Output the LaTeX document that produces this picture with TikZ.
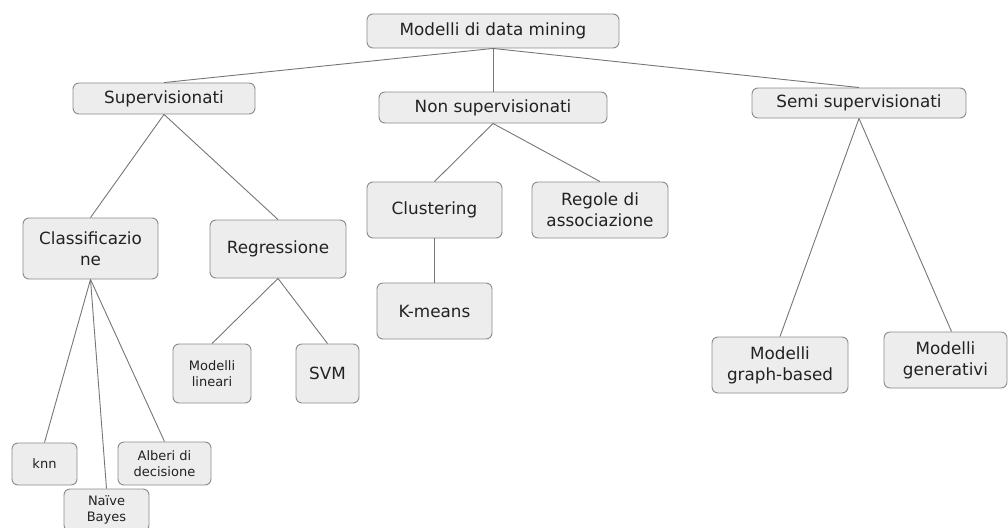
\documentclass[tikz,border=0pt]{standalone}
\usepackage{fontspec}
\setmainfont{DejaVu Sans}
\definecolor{boxfill}{HTML}{EDEDED}
\definecolor{boxline}{HTML}{8A8A8A}
\definecolor{linkgray}{HTML}{767676}
\definecolor{ink}{HTML}{222222}
\begin{document}
\begin{tikzpicture}[x=1pt,y=-1pt,
  box/.style={draw=boxline, fill=boxfill, rounded corners=6pt, line width=0.9pt,
    align=center, inner sep=0pt, text=ink, font=\fontsize{16.8}{21}\selectfont},
  small/.style={box, font=\fontsize{13}{16.5}\selectfont},
  link/.style={draw=linkgray, line width=0.9pt}]
\useasboundingbox (0,0) rectangle (1008,527);

% root and first level
\node[box, minimum width=252pt, minimum height=34pt] (root) at (493,31) {Modelli di data mining};
\node[box, minimum width=182pt, minimum height=31pt] (sup) at (164,98.5) {Supervisionati};
\node[box, minimum width=228pt, minimum height=31pt] (non) at (493,107.5) {Non supervisionati};
\node[box, minimum width=214pt, minimum height=30pt] (semi) at (859,103) {Semi supervisionati};

% supervised branch
\node[box, minimum width=135pt, minimum height=61pt] (class) at (90.5,248.5) {Classificazio\\ne};
\node[box, minimum width=136pt, minimum height=58pt] (regr) at (278,249) {Regressione};
\node[small, minimum width=65pt, minimum height=42pt] (knn) at (44.5,464) {knn};
\node[small, minimum width=85pt, minimum height=42pt] (naive) at (106.5,510) {Naïve\\Bayes};
\node[small, minimum width=93pt, minimum height=43pt] (alberi) at (164.5,463.5) {Alberi di\\decisione};
\node[small, minimum width=78pt, minimum height=59pt] (lin) at (212,373.5) {Modelli\\lineari};
\node[box, minimum width=63pt, minimum height=59pt] (svm) at (327.5,373.5) {SVM};

% unsupervised branch
\node[box, minimum width=135pt, minimum height=56pt] (clust) at (434.5,210) {Clustering};
\node[box, minimum width=136pt, minimum height=56pt] (regole) at (600,210) {Regole di\\associazione};
\node[box, minimum width=115pt, minimum height=56pt] (kmeans) at (434.5,311) {K-means};

% semi-supervised branch
\node[box, minimum width=136pt, minimum height=56pt] (graph) at (780,365) {Modelli\\graph-based};
\node[box, minimum width=123pt, minimum height=56pt] (gen) at (945.5,360) {Modelli\\generativi};

% connectors
\draw[link] (root.south) -- (sup.north);
\draw[link] (root.south) -- (non.north);
\draw[link] (root.south) -- (semi.north);
\draw[link] (sup.south) -- (class.north);
\draw[link] (sup.south) -- (regr.north);
\draw[link] (class.south) -- (knn.north);
\draw[link] (class.south) -- (naive.north);
\draw[link] (class.south) -- (alberi.north);
\draw[link] (regr.south) -- (lin.north);
\draw[link] (regr.south) -- (svm.north);
\draw[link] (non.south) -- (clust.north);
\draw[link] (non.south) -- (regole.north);
\draw[link] (clust.south) -- (kmeans.north);
\draw[link] (semi.south) -- (graph.north);
\draw[link] (semi.south) -- ([xshift=6pt]gen.north);
\end{tikzpicture}
\end{document}
